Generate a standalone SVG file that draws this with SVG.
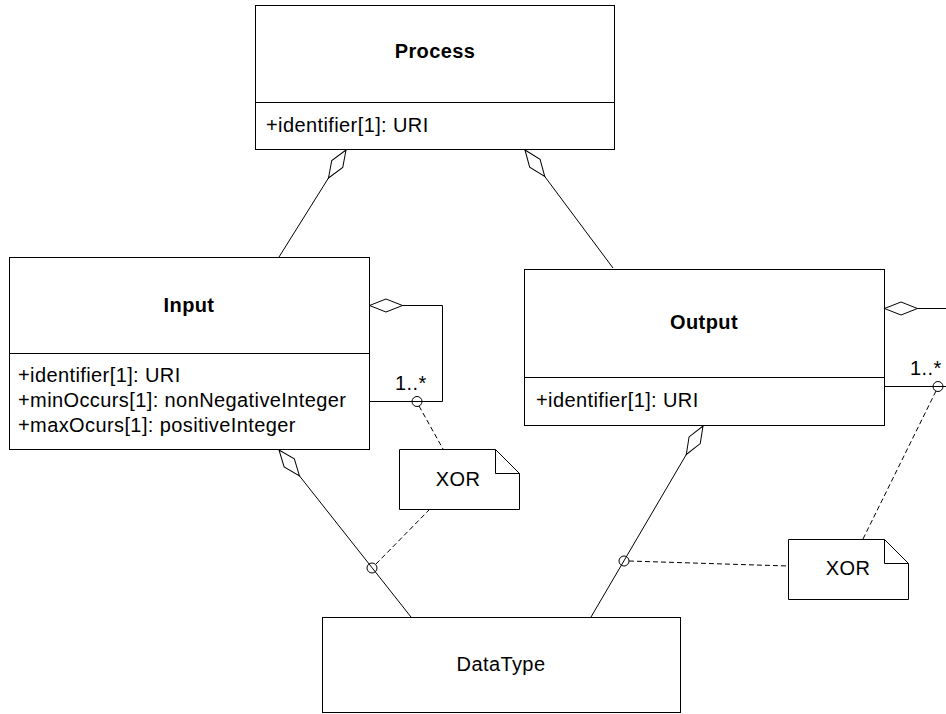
<svg xmlns="http://www.w3.org/2000/svg" width="946" height="714" viewBox="0 0 946 714">
<style>
  .box { fill: #ffffff; stroke: #000000; stroke-width: 1; }
  .div { stroke: #000000; stroke-width: 1; }
  .t { font-family: "Liberation Sans", Arial, sans-serif; font-size: 20px; letter-spacing: 0.4px; fill: #000000; }
  .b { font-weight: bold; }
  .c { text-anchor: middle; }
  .conn { fill: none; stroke: #000000; stroke-width: 1; }
  .dash { fill: none; stroke: #000000; stroke-width: 1; stroke-dasharray: 5,3; }
  .ring { fill: none; stroke: #000000; stroke-width: 1; }
</style>
<defs>
  <marker id="agg" viewBox="-1 -8 36 16" markerWidth="36" markerHeight="16" refX="0" refY="0" orient="auto" markerUnits="userSpaceOnUse">
    <path d="M0,0 L16.5,-6.5 L33,0 L16.5,6.5 Z" fill="#ffffff" stroke="#000000" stroke-width="1"/>
  </marker>
</defs>
<rect x="0" y="0" width="946" height="714" fill="#ffffff"/>

<g id="process">
  <rect class="box" x="255.5" y="5.5" width="359" height="144"/>
  <line class="div" x1="255.5" y1="102.5" x2="614.5" y2="102.5"/>
  <text class="t b c" x="435" y="58">Process</text>
  <text class="t" x="266" y="132">+identifier[1]: URI</text>
</g>

<g id="input">
  <rect class="box" x="9.5" y="257.5" width="360" height="192"/>
  <line class="div" x1="9.5" y1="353.5" x2="369.5" y2="353.5"/>
  <text class="t b c" x="189" y="312">Input</text>
  <text class="t" x="18" y="382">+identifier[1]: URI</text>
  <text class="t" x="18" y="407">+minOccurs[1]: nonNegativeInteger</text>
  <text class="t" x="18" y="432">+maxOcurs[1]: positiveInteger</text>
</g>

<g id="output">
  <rect class="box" x="524.5" y="269.5" width="360" height="156"/>
  <line class="div" x1="524.5" y1="377.5" x2="884.5" y2="377.5"/>
  <text class="t b c" x="704" y="329">Output</text>
  <text class="t" x="536" y="407">+identifier[1]: URI</text>
</g>

<g id="datatype">
  <rect class="box" x="322.5" y="617.5" width="358" height="95"/>
  <text class="t c" x="501" y="671">DataType</text>
</g>

<g id="connectors">
  <path class="conn" d="M346,150 L279,257" marker-start="url(#agg)"/>
  <path class="conn" d="M525,150 L613,268" marker-start="url(#agg)"/>
  <path class="conn" d="M369.5,305.5 L442.5,305.5 L442.5,401.5 L369.5,401.5" marker-start="url(#agg)"/>
  <path class="conn" d="M279,450 L411,617" marker-start="url(#agg)"/>
  <path class="conn" d="M703,426 L591,617" marker-start="url(#agg)"/>
  <path class="conn" d="M884.5,308.5 L960,308.5 L960,386.5 L884.5,386.5" marker-start="url(#agg)"/>
  <circle class="ring" cx="417" cy="401.5" r="5"/>
  <circle class="ring" cx="372" cy="568" r="5"/>
  <circle class="ring" cx="624" cy="561" r="5"/>
  <circle class="ring" cx="938" cy="386.5" r="5"/>
  <line class="dash" x1="419" y1="406" x2="443" y2="449"/>
  <line class="dash" x1="376" y1="564" x2="430" y2="509"/>
  <line class="dash" x1="629" y1="561" x2="788" y2="566"/>
  <line class="dash" x1="936" y1="391" x2="863" y2="539"/>
  <text class="t" x="395" y="390">1..*</text>
  <text class="t" x="910" y="375">1..*</text>
</g>

<g id="note1">
  <path class="box" d="M399.5,449.5 L495.5,449.5 L519.5,473.5 L519.5,509.5 L399.5,509.5 Z"/>
  <path class="conn" d="M495.5,449.5 L495.5,473.5 L519.5,473.5"/>
  <text class="t c" x="458" y="486">XOR</text>
</g>

<g id="note2">
  <path class="box" d="M788.5,539.5 L884.5,539.5 L908.5,563.5 L908.5,599.5 L788.5,599.5 Z"/>
  <path class="conn" d="M884.5,539.5 L884.5,563.5 L908.5,563.5"/>
  <text class="t c" x="848" y="575">XOR</text>
</g>
</svg>
